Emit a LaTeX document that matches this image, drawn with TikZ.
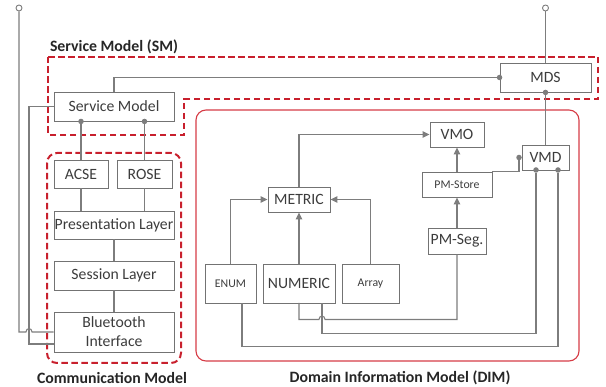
\documentclass[tikz,border=0pt]{standalone}
\usepackage{fontspec}
\setmainfont{Carlito}
\usetikzlibrary{arrows.meta}
\definecolor{lnc}{RGB}{125,125,125}
\definecolor{boxc}{RGB}{115,115,115}
\definecolor{txc}{RGB}{60,60,60}
\definecolor{smred}{RGB}{200,32,45}
\definecolor{dimred}{RGB}{214,60,70}
\tikzset{
  bx/.style={draw=boxc, line width=0.9pt, inner sep=0pt, text=txc, font=\fontsize{15.7}{19}\selectfont, align=center},
  sbx/.style={bx, font=\fontsize{11.8}{14}\selectfont},
  conn/.style={draw=lnc, line width=1.05pt},
  arr/.style={conn, -{Triangle[length=7pt,width=6.5pt]}},
  dotc/.style={circle, fill=lnc, inner sep=0pt, minimum size=5.5pt},
  opendot/.style={circle, draw=lnc, fill=white, line width=0.9pt, inner sep=0pt, minimum size=6pt},
  redbox/.style={draw=smred, line width=2pt, dash pattern=on 6.5pt off 3.5pt},
  dimbox/.style={draw=dimred, line width=1.1pt},
  title/.style={font=\bfseries\fontsize{15.8}{18}\selectfont, text=black!85},
}
\begin{document}
\begin{tikzpicture}[x=1pt,y=-1pt]
\useasboundingbox (0,0) rectangle (606,387);

% regions
\draw[redbox] (48,57) -- (598,57) -- (598,99) -- (184,99) -- (184,135) -- (48,135) -- cycle;
\draw[redbox, rounded corners=10pt] (47,153) rectangle (181,363);
\draw[dimbox, rounded corners=10pt] (196,110) rectangle (579,361);

% titles
\node[title] (tsm) at (114,47) {Service Model (SM)};
\node[title] (tcm) at (112,378) {Communication Model};
\node[title] (tdim) at (400,378) {Domain Information Model (DIM)};

% boxes
\node[bx, minimum width=120pt, minimum height=29pt] (sm) at (114,106.5) {Service Model};
\node[bx, minimum width=91pt, minimum height=29pt] (mds) at (545.5,77.5) {MDS};
\node[bx, minimum width=54pt, minimum height=28pt] (acse) at (81,174) {ACSE};
\node[bx, minimum width=55pt, minimum height=28pt] (rose) at (144.5,174) {ROSE};
\node[bx, minimum width=120pt, minimum height=28pt] (pres) at (114,225) {Presentation Layer};
\node[bx, minimum width=120pt, minimum height=29pt] (sess) at (114,275.5) {Session Layer};
\node[bx, minimum width=120pt, minimum height=40pt] (bt) at (114,332) {Bluetooth\\Interface};
\node[bx, minimum width=62pt, minimum height=25pt] (metric) at (299,199.5) {METRIC};
\node[bx, minimum width=54pt, minimum height=25pt] (vmo) at (457,134.5) {VMO};
\node[bx, minimum width=47pt, minimum height=25pt] (vmd) at (545.5,157.5) {VMD};
\node[sbx, minimum width=70pt, minimum height=25pt] (pmstore) at (457,184.5) {PM-Store};
\node[bx, minimum width=58pt, minimum height=26pt] (pmseg) at (457,241) {PM-Seg.};
\node[sbx, minimum width=51pt, minimum height=39pt] (enum) at (230.5,283.5) {ENUM};
\node[bx, minimum width=72pt, minimum height=39pt] (numeric) at (299,283.5) {NUMERIC};
\node[sbx, minimum width=57pt, minimum height=39pt] (array) at (370.5,283.5) {Array};

% terminals
\node[opendot] (c1) at (19,8) {};
\node[opendot] (c2) at (545.5,8) {};

% communication stack
\draw[conn] (acse.north |- sm.south) -- (acse.north);
\draw[conn] (rose.north |- sm.south) -- (rose.north);
\node[dotc] (d1) at (acse.north |- sm.south) {};
\node[dotc] (d2) at (rose.north |- sm.south) {};
\draw[conn] (acse.south) -- (acse.south |- pres.north);
\draw[conn] (rose.south) -- (rose.south |- pres.north);
\draw[conn] (pres.south) -- (sess.north);
\draw[conn] (sess.south) -- (bt.north);

% left external lines
\coordinate (j1) at (29,344);
\draw[conn] (sm.west) -| (j1) -- (j1 -| bt.west);
\draw[conn] (c1) -- (19,332) -- (26,332) .. controls (26,327.5) and (32,327.5) .. (32,332) -- (bt.west);

% service model to MDS
\draw[conn] (sm.north) |- (mds.west);
\node[dotc] (d3) at (mds.west) {};
\draw[conn] (c2) -- (mds.north);
\draw[conn] (mds.south) -- (vmd.north);
\node[dotc] (d4) at (mds.south) {};

% DIM inheritance
\draw[arr] (metric.north) |- (vmo.west);
\draw[arr] (enum.north) |- (metric.west);
\draw[arr] (array.north) |- (metric.east);
\draw[arr] (numeric.north) -- (metric.south);
\draw[arr] (pmstore.north) -- (vmo.south);
\draw[arr] (pmseg.north) -- (pmstore.south);

% PM-Store to VMD
\node[dotc] (d5) at (519,157.5) {};
\draw[conn] (pmstore.north east) -| (d5);

% lower links
\coordinate (n1) at (299,303);
\coordinate (n2) at (322,303);
\coordinate (e1) at (242,303);
\node[dotc] (v1) at (536,170) {};
\node[dotc] (v2) at (558,170) {};
\draw[conn] (n1) -- (299,319.5) -- (319,319.5) .. controls (319,315) and (325,315) .. (325,319.5) -- (457,319.5) -- (pmseg.south);
\draw[conn] (n2) -- (322,333.5) -- (536,333.5) -- (v1);
\draw[conn] (e1) -- (242,346.5) -- (558,346.5) -- (v2);
\end{tikzpicture}
\end{document}
